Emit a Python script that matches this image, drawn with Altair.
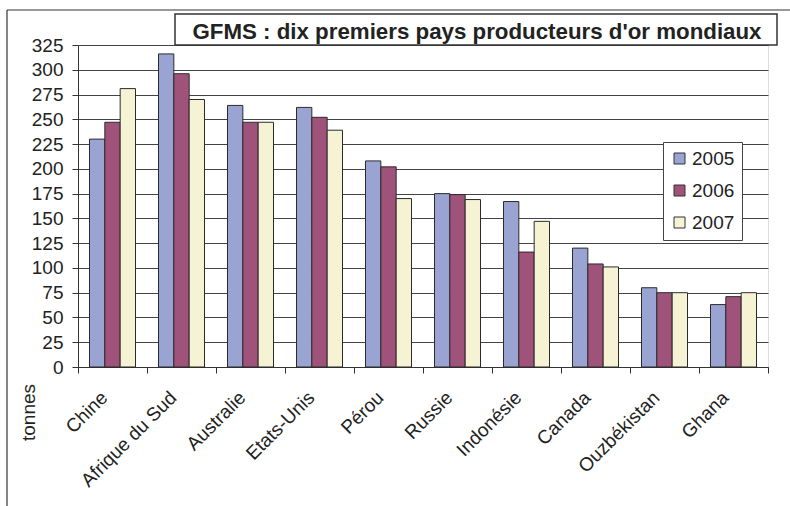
import altair as alt
import pandas as pd

countries = ["Chine", "Afrique du Sud", "Australie", "Etats-Unis", "Pérou",
             "Russie", "Indonésie", "Canada", "Ouzbékistan", "Ghana"]
years = ["2005", "2006", "2007"]
v2005 = [230, 316, 264, 262, 208, 175, 167, 120, 80, 63]
v2006 = [247, 296, 247, 252, 202, 174, 116, 104, 75, 71]
v2007 = [281, 270, 247, 239, 170, 169, 147, 101, 75, 75]
colors = ["#99a4d2", "#a0537a", "#f5f3d3"]
title_text = ["GFMS : dix premiers pays producteurs d'or mondiaux"]
y_title = "tonnes"
y_ticks = list(range(0, 326, 25))

rows = []
for i, c in enumerate(countries):
    for yr, vals in zip(years, [v2005, v2006, v2007]):
        rows.append({"pays": c, "annee": yr, "tonnes": vals[i]})
df = pd.DataFrame(rows)

W, H = 690, 322
FONT = "Liberation Sans"

bars = alt.Chart(df).mark_bar(stroke="#2b2b2b", strokeWidth=1).encode(
    x=alt.X("pays:N", sort=countries,
            scale=alt.Scale(paddingInner=0, paddingOuter=0),
            axis=alt.Axis(title=None, labelAngle=-45, labelFontSize=19,
                          labelFont=FONT, labelColor="#222",
                          tickBand="extent", tickSize=6, tickColor="#333",
                          domainColor="#333", labelPadding=15,
                          labelOffset=-15, grid=False)),
    xOffset=alt.XOffset("annee:N", sort=years,
                        scale=alt.Scale(paddingInner=0, paddingOuter=0.75)),
    y=alt.Y("tonnes:Q", scale=alt.Scale(domain=[0, 325], nice=False),
            axis=alt.Axis(values=y_ticks, title=y_title, titleFont=FONT,
                          titleFontSize=19, titleFontWeight="normal",
                          titleColor="#222", titleAngle=270,
                          titleAlign="center", titleBaseline="middle",
                          titleX=-50, titleY=367,
                          labelFont=FONT, labelFontSize=19, labelColor="#222",
                          labelPadding=9, tickSize=6, tickColor="#333",
                          domainColor="#333", grid=True, gridColor="#444",
                          gridWidth=1)),
    color=alt.Color("annee:N", scale=alt.Scale(domain=years, range=colors),
                    legend=alt.Legend(title=None, orient="none",
                                      legendX=585, legendY=97,
                                      fillColor="white", strokeColor="#444",
                                      padding=7, symbolType="square",
                                      symbolSize=121, symbolStrokeColor="#333",
                                      symbolStrokeWidth=1, symbolOpacity=1,
                                      labelFont=FONT, labelFontSize=19,
                                      labelColor="#222", rowPadding=12,
                                      labelOffset=3))
)

one = pd.DataFrame({"t": title_text})

frame_top = alt.Chart(one).mark_rule(color="#333", strokeWidth=1.2).encode(
    x=alt.value(-71), x2=alt.value(712), y=alt.value(-35))
frame_left = alt.Chart(one).mark_rule(color="#333", strokeWidth=1.2).encode(
    x=alt.value(-71), y=alt.value(-35), y2=alt.value(461))

box = alt.Chart(one).mark_rect(fill="white", stroke="#333", strokeWidth=1.5).encode(
    x=alt.value(97), x2=alt.value(699), y=alt.value(-31), y2=alt.value(0))
title = alt.Chart(one).mark_text(font=FONT, fontWeight="bold", fontSize=22.3,
                                 align="center", baseline="alphabetic",
                                 color="#222").encode(
    x=alt.value(399), y=alt.value(-6), text="t:N")

chart = alt.layer(bars, frame_top, frame_left, box, title).properties(
    width=W, height=H,
    autosize=alt.AutoSizeParams(type="none"),
    padding={"left": 78, "top": 45, "right": 22, "bottom": 139},
    background="white",
).configure_view(stroke="#8a8a8a", strokeWidth=1).configure(font=FONT)

chart.save("out.html", embed_options={"renderer": "svg", "actions": False})
